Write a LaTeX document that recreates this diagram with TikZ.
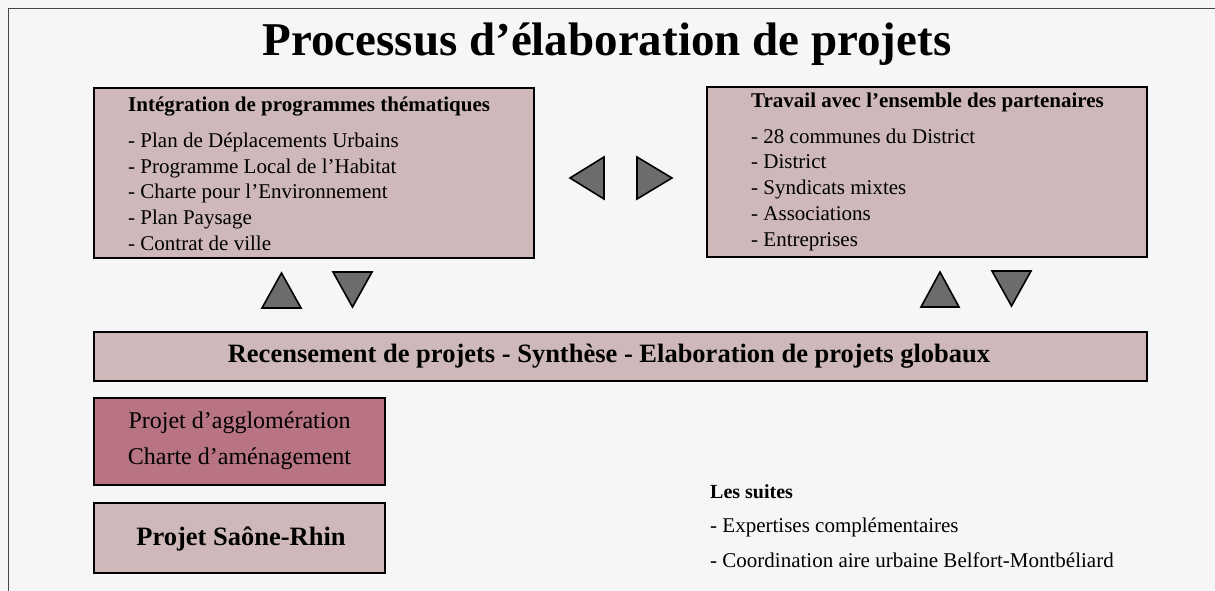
\documentclass[tikz,border=0pt]{standalone}
\usepackage{fontspec}
\setmainfont{Liberation Serif}
\definecolor{pagebg}{RGB}{246,246,249}
\definecolor{boxfill}{RGB}{206,184,185}
\definecolor{boxdark}{RGB}{184,116,131}
\definecolor{trifill}{RGB}{108,108,108}
\definecolor{framecol}{RGB}{70,70,70}
\tikzset{
  box/.style={draw=black, line width=2pt, fill=boxfill, inner sep=0pt, anchor=north west},
  boxd/.style={box, fill=boxdark},
  tri/.style={draw=black, line width=1.6pt, fill=trifill, line join=miter},
  txt/.style={anchor=base west, inner sep=0pt, font=\fontsize{21}{25}\selectfont},
  hd/.style={txt, font=\fontsize{21}{25}\selectfont\bfseries},
}
\begin{document}
\begin{tikzpicture}[x=1pt,y=-1pt]
\useasboundingbox (0,0) rectangle (1215,591);
\fill[pagebg] (0,0) rectangle (1215,591);
\draw[framecol, line width=1.6pt] (1215,8.5) -- (8.5,8.5) -- (8.5,591);

% title
\node[anchor=base, inner sep=0pt, font=\fontsize{47}{52}\selectfont\bfseries] (title) at (607,56) {Processus d’élaboration de projets};

% box 1
\node[box, minimum width=440pt, minimum height=170pt] (b1) at (92.5,87) {};
\node[hd] (b1h) at (128,112) {Intégration de programmes thématiques};
\node[txt] (b1a) at (128,147) {- Plan de Déplacements Urbains};
\node[txt] (b1b) at (128,173) {- Programme Local de l’Habitat};
\node[txt] (b1c) at (128,198.5) {- Charte pour l’Environnement};
\node[txt] (b1d) at (128,224) {- Plan Paysage};
\node[txt] (b1e) at (128,250) {- Contrat de ville};

% box 2
\node[box, minimum width=440pt, minimum height=170pt] (b2) at (706,86) {};
\node[hd] (b2h) at (751,108) {Travail avec l’ensemble des partenaires};
\node[txt] (b2a) at (751,143) {- 28 communes du District};
\node[txt] (b2b) at (751,168.5) {- District};
\node[txt] (b2c) at (751,194) {- Syndicats mixtes};
\node[txt] (b2d) at (751,220) {- Associations};
\node[txt] (b2e) at (751,246) {- Entreprises};

% horizontal triangles
\path[tri] (570,178) -- (604,157) -- (604,199) -- cycle;
\path[tri] (637,157) -- (672,178) -- (637,199) -- cycle;

% vertical triangles left
\path[tri] (281.5,273) -- (301,308) -- (262,308) -- cycle;
\path[tri] (333,272) -- (372,272) -- (352.5,307) -- cycle;
% vertical triangles right
\path[tri] (940,272) -- (959,307) -- (921,307) -- cycle;
\path[tri] (992,271) -- (1031,271) -- (1011.5,306) -- cycle;

% bar
\node[box, minimum width=1053.5pt, minimum height=49pt] (bar) at (92.5,330.5) {};
\node[anchor=base, inner sep=0pt, font=\fontsize{26.5}{30}\selectfont\bfseries] (barT) at (609,362) {Recensement de projets - Synthèse - Elaboration de projets globaux};

% agglomeration
\node[boxd, minimum width=291.5pt, minimum height=87pt] (agg) at (92.5,397) {};
\node[anchor=base, inner sep=0pt, font=\fontsize{24}{28}\selectfont] (aggA) at (239.5,428) {Projet d’agglomération};
\node[anchor=base, inner sep=0pt, font=\fontsize{24}{28}\selectfont] (aggB) at (239.5,464) {Charte d’aménagement};

% saone-rhin
\node[box, minimum width=291.5pt, minimum height=70pt] (sr) at (92.5,502) {};
\node[anchor=base, inner sep=0pt, font=\fontsize{26.5}{30}\selectfont\bfseries] (srT) at (241,545) {Projet Saône-Rhin};

% les suites
\node[hd, font=\fontsize{20}{24}\selectfont\bfseries] (suH) at (710,498) {Les suites};
\node[txt] (suA) at (710,532) {- Expertises complémentaires};
\node[txt] (suB) at (710,567) {- Coordination aire urbaine Belfort-Montbéliard};
\end{tikzpicture}
\end{document}
